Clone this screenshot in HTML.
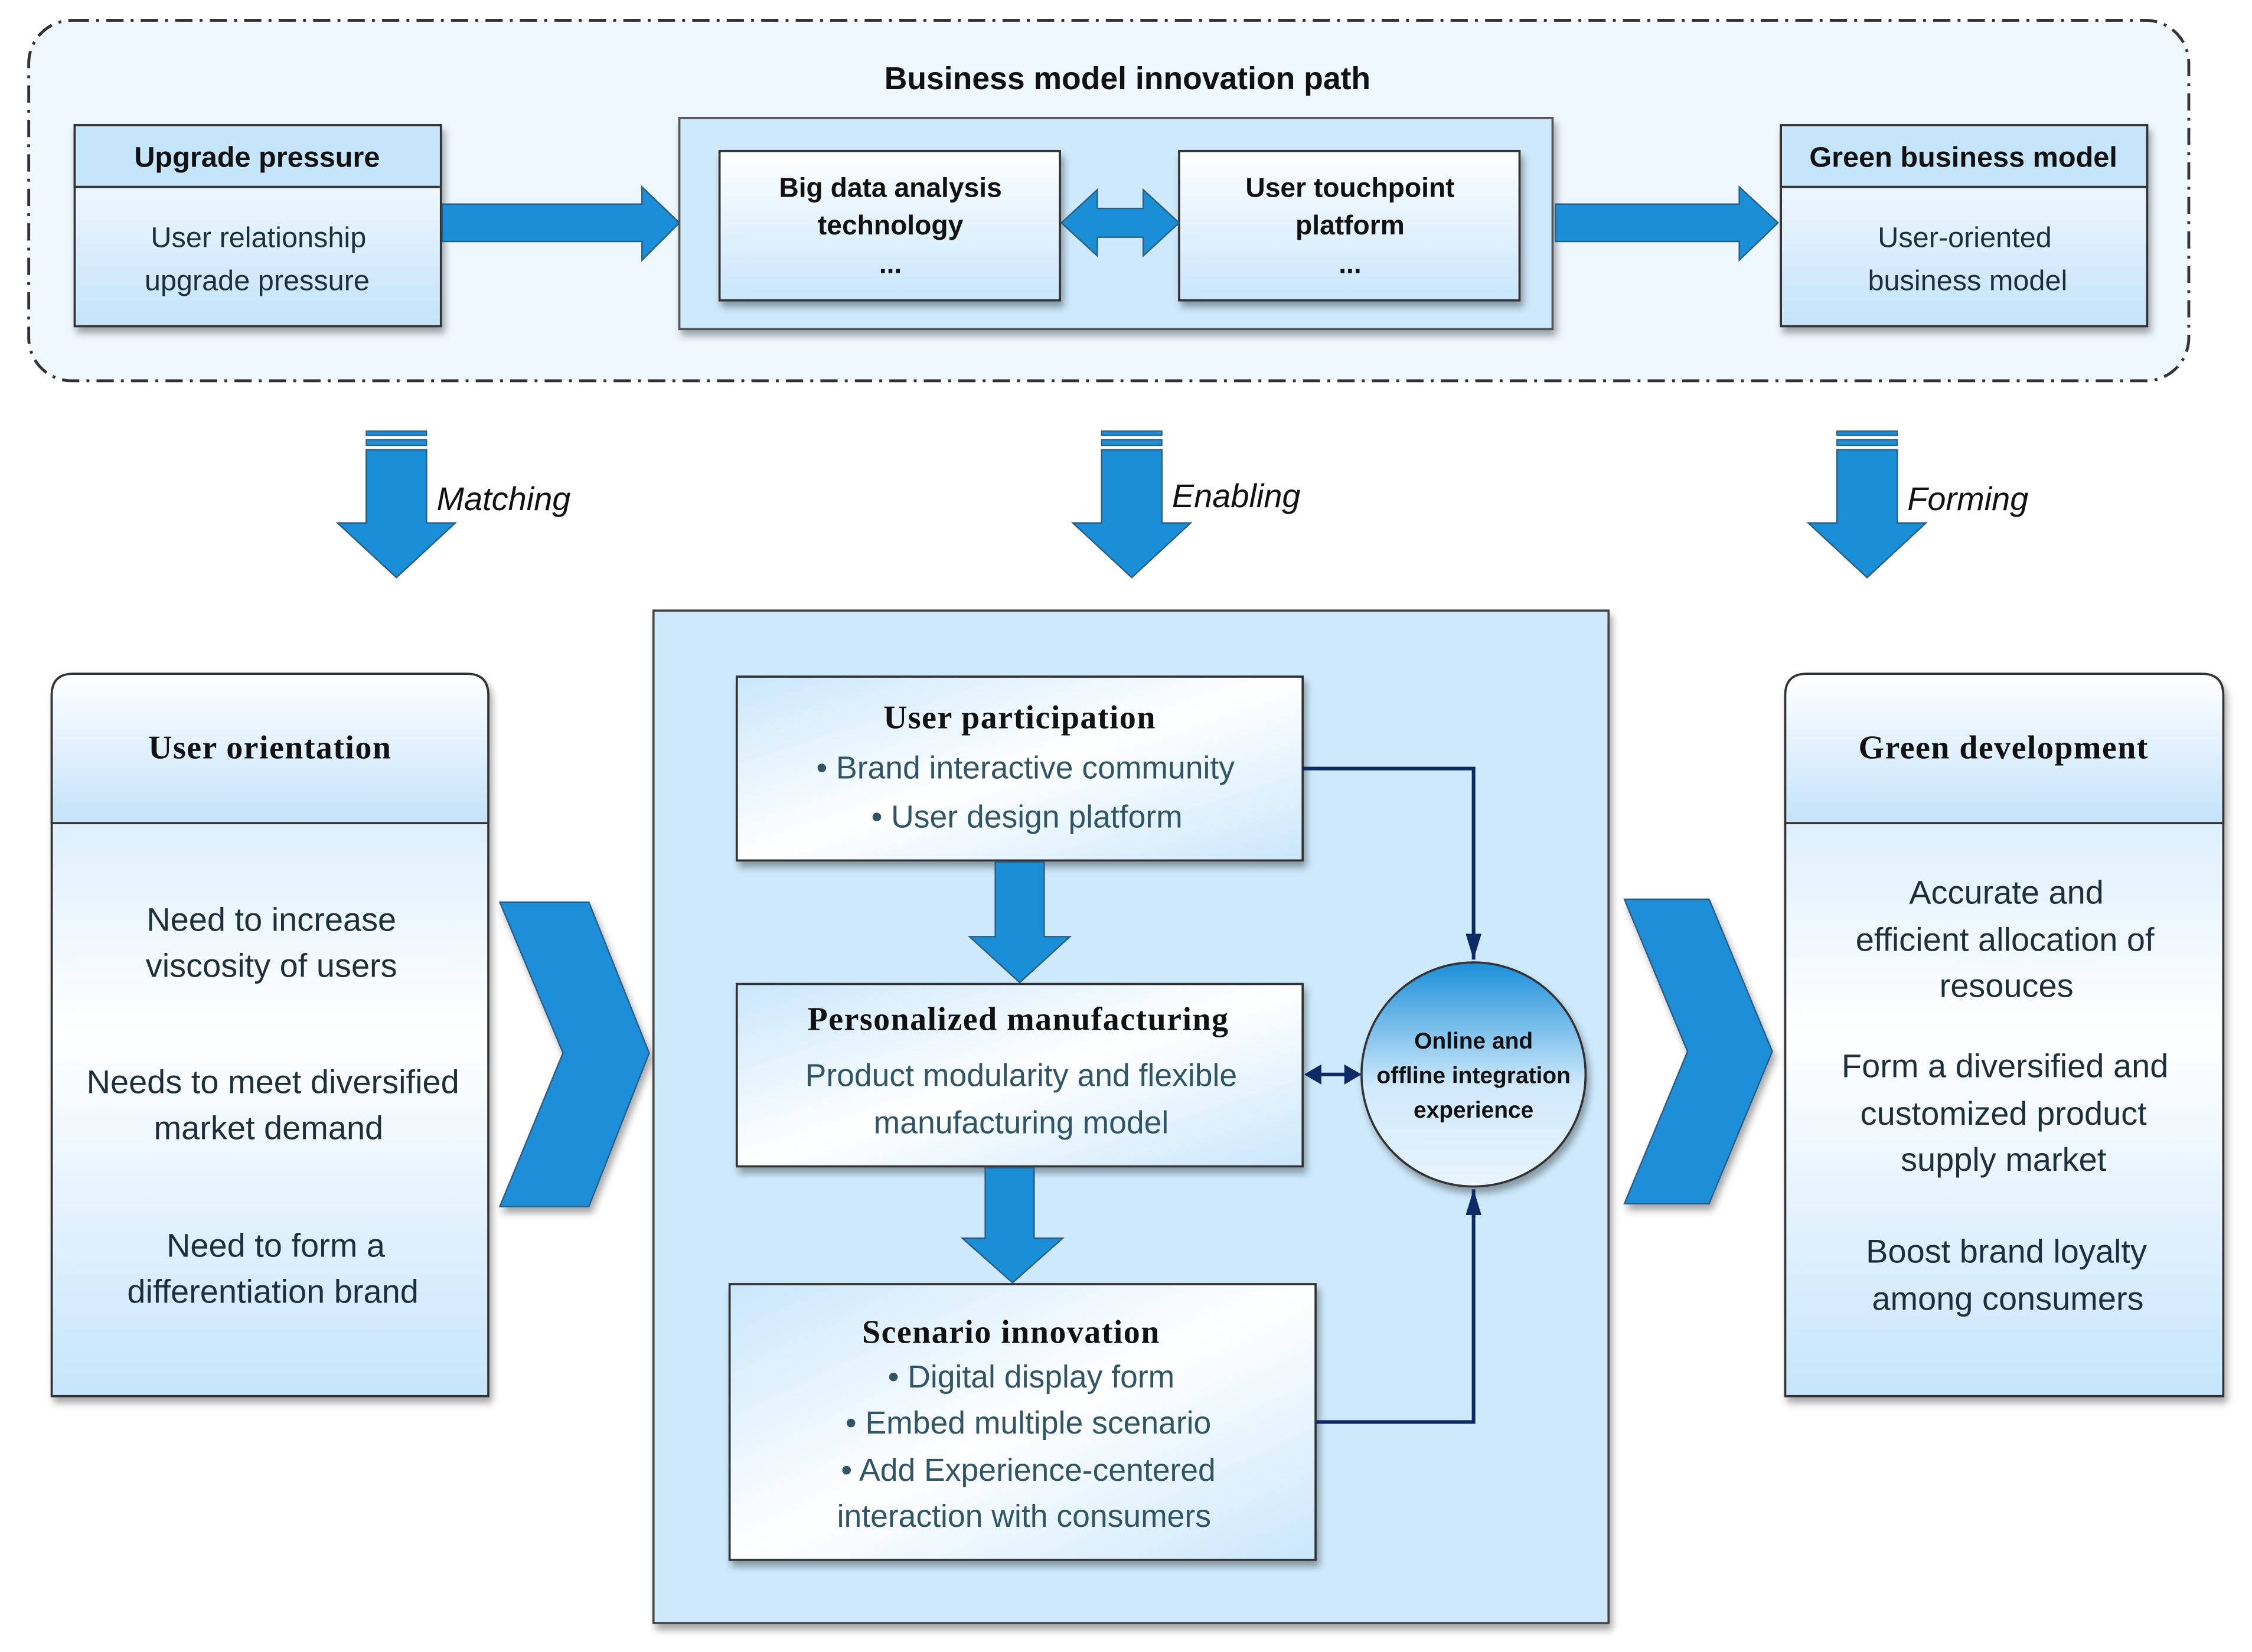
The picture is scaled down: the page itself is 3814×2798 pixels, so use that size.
<!DOCTYPE html>
<html><head><meta charset="utf-8"><style>
html,body{margin:0;padding:0;background:#fff;}
svg{display:block;}
.t{font-family:"Liberation Sans",sans-serif;}
.b{font-family:"Liberation Sans",sans-serif;font-weight:bold;fill:#111;}
.s{font-family:"Liberation Serif",serif;font-weight:bold;fill:#111;letter-spacing:0.6px;}
.body{font-family:"Liberation Sans",sans-serif;fill:#1e2f3c;}
.teal{font-family:"Liberation Sans",sans-serif;fill:#2f5566;}
</style></head><body>
<svg width="3814" height="2798" viewBox="0 0 1568 1150" xmlns="http://www.w3.org/2000/svg">
<defs>
<linearGradient id="g1" x1="0" y1="0" x2="0" y2="1"><stop offset="0" stop-color="#ffffff"/><stop offset="1" stop-color="#c3e3fa"/></linearGradient>
<linearGradient id="g2" x1="0" y1="0" x2="1" y2="1"><stop offset="0" stop-color="#c9e7fb"/><stop offset="0.5" stop-color="#ffffff"/><stop offset="1" stop-color="#c9e7fb"/></linearGradient>
<linearGradient id="g3" x1="0" y1="0" x2="0" y2="1"><stop offset="0" stop-color="#ffffff"/><stop offset="1" stop-color="#c8e6fb"/></linearGradient>
<linearGradient id="g4" x1="0" y1="0" x2="0" y2="1"><stop offset="0" stop-color="#c6e5fb"/><stop offset="0.5" stop-color="#ffffff"/><stop offset="1" stop-color="#c6e5fb"/></linearGradient>
<linearGradient id="gc" x1="0" y1="0" x2="0" y2="1"><stop offset="0" stop-color="#1a8fd8"/><stop offset="0.55" stop-color="#cfe9fb"/><stop offset="1" stop-color="#e8f5fe"/></linearGradient>
<filter id="sh" x="-10%" y="-10%" width="130%" height="130%"><feDropShadow dx="2" dy="4" stdDeviation="2.5" flood-color="#000" flood-opacity="0.35"/></filter>
<marker id="ah" markerWidth="18" markerHeight="11" refX="18" refY="5.5" orient="auto" markerUnits="userSpaceOnUse" viewBox="0 0 18 11"><path d="M0,0 L18,5.5 L0,11 Z" fill="#0d2a66"/></marker>
</defs>

<rect x="20" y="14" width="1504" height="251" rx="30" fill="#eef7fd" stroke="#333" stroke-width="2" stroke-dasharray="12,5,2,5"/>
<text x="785" y="62" text-anchor="middle" class="b" font-size="22">Business model innovation path</text>

<g filter="url(#sh)"><rect x="52" y="87" width="255" height="140" fill="url(#g1)" stroke="#333" stroke-width="1.5"/></g>
<rect x="52" y="87" width="255" height="43" fill="#c5e5fb" stroke="#333" stroke-width="1.5"/>
<text x="179" y="116" text-anchor="middle" class="b" font-size="20">Upgrade pressure</text>
<text x="180" y="172" text-anchor="middle" class="body" font-size="20">User relationship</text>
<text x="179" y="202" text-anchor="middle" class="body" font-size="20">upgrade pressure</text>

<path d="M308,142 L447,142 L447,130 L473,155 L447,181 L447,168 L308,168 Z" fill="#1a8fd8" stroke="#2a5d86" stroke-width="1"/>

<g filter="url(#sh)"><rect x="473" y="82" width="608" height="147" fill="#cde9fb" stroke="#555" stroke-width="1.5"/></g>
<g filter="url(#sh)"><rect x="501" y="105" width="237" height="104" fill="url(#g3)" stroke="#333" stroke-width="1.5"/></g>
<text x="620" y="137" text-anchor="middle" class="b" font-size="19">Big data analysis</text>
<text x="620" y="163" text-anchor="middle" class="b" font-size="19">technology</text>
<text x="620" y="190" text-anchor="middle" class="b" font-size="19">...</text>
<g filter="url(#sh)"><rect x="821" y="105" width="237" height="104" fill="url(#g3)" stroke="#333" stroke-width="1.5"/></g>
<text x="940" y="137" text-anchor="middle" class="b" font-size="19">User touchpoint</text>
<text x="940" y="163" text-anchor="middle" class="b" font-size="19">platform</text>
<text x="940" y="190" text-anchor="middle" class="b" font-size="19">...</text>
<path d="M739,155 L764,132 L764,145 L796,145 L796,132 L821,155 L796,178 L796,165 L764,165 L764,178 Z" fill="#1a8fd8" stroke="#2a5d86" stroke-width="1"/>

<path d="M1083,142 L1211,142 L1211,130 L1238,155 L1211,181 L1211,168 L1083,168 Z" fill="#1a8fd8" stroke="#2a5d86" stroke-width="1"/>

<g filter="url(#sh)"><rect x="1240" y="87" width="255" height="140" fill="url(#g1)" stroke="#333" stroke-width="1.5"/></g>
<rect x="1240" y="87" width="255" height="43" fill="#c5e5fb" stroke="#333" stroke-width="1.5"/>
<text x="1367" y="116" text-anchor="middle" class="b" font-size="20">Green business model</text>
<text x="1368" y="172" text-anchor="middle" class="body" font-size="20">User-oriented</text>
<text x="1370" y="202" text-anchor="middle" class="body" font-size="20">business model</text>

<g id="da">
<rect x="255" y="300" width="42" height="3" fill="#1a8fd8" stroke="#2a5d86" stroke-width="0.8"/>
<rect x="255" y="306" width="42" height="4" fill="#1a8fd8" stroke="#2a5d86" stroke-width="0.8"/>
<path d="M255,313 L297,313 L297,364 L317,364 L276,402 L235,364 L255,364 Z" fill="#1a8fd8" stroke="#2a5d86" stroke-width="1"/>
</g>
<use href="#da" x="512"/>
<use href="#da" x="1024"/>
<text x="304" y="355" class="t" font-style="italic" font-size="23" fill="#111">Matching</text>
<text x="816" y="353" class="t" font-style="italic" font-size="23" fill="#111">Enabling</text>
<text x="1328" y="355" class="t" font-style="italic" font-size="23" fill="#111">Forming</text>

<g filter="url(#sh)"><path d="M36,573 L36,484 Q36,469 51,469 L325,469 Q340,469 340,484 L340,972 L36,972 Z" fill="url(#g4)" stroke="#333" stroke-width="1.5"/></g>
<path d="M36,573 L36,484 Q36,469 51,469 L325,469 Q340,469 340,484 L340,573 Z" fill="url(#g1)" stroke="#333" stroke-width="1.5"/>
<text x="188" y="528" text-anchor="middle" class="s" font-size="23">User orientation</text>
<g class="body" font-size="23" text-anchor="middle">
<text x="189" y="648">Need to increase</text>
<text x="189" y="680">viscosity of users</text>
<text x="190" y="761">Needs to meet diversified</text>
<text x="187" y="793">market demand</text>
<text x="192" y="875">Need to form a</text>
<text x="190" y="907">differentiation brand</text>
</g>

<path d="M348,628 L410,628 L452,733 L410,840 L348,840 L392,733 Z" fill="#1a8fd8" stroke="#2a5d86" stroke-width="1" filter="url(#sh)"/>
<path d="M1131,626 L1190,626 L1234,732 L1190,838 L1131,838 L1175,732 Z" fill="#1a8fd8" stroke="#2a5d86" stroke-width="1" filter="url(#sh)"/>

<g filter="url(#sh)"><rect x="455" y="425" width="665" height="705" fill="#cde9fb" stroke="#444" stroke-width="1.5"/></g>

<g filter="url(#sh)"><rect x="513" y="471" width="394" height="128" fill="url(#g2)" stroke="#333" stroke-width="1.5"/></g>
<text x="710" y="507" text-anchor="middle" class="s" font-size="23">User participation</text>
<text x="714" y="542" text-anchor="middle" class="teal" font-size="22">• Brand interactive community</text>
<text x="715" y="576" text-anchor="middle" class="teal" font-size="22">• User design platform</text>

<path d="M693,600 L727,600 L727,652 L745,652 L710,684 L675,652 L693,652 Z" fill="#1a8fd8" stroke="#2a5d86" stroke-width="1"/>

<g filter="url(#sh)"><rect x="513" y="685" width="394" height="127" fill="url(#g2)" stroke="#333" stroke-width="1.5"/></g>
<text x="709" y="717" text-anchor="middle" class="s" font-size="23">Personalized manufacturing</text>
<text x="711" y="756" text-anchor="middle" class="teal" font-size="22">Product modularity and flexible</text>
<text x="711" y="789" text-anchor="middle" class="teal" font-size="22">manufacturing model</text>

<path d="M686,813 L720,813 L720,862 L740,862 L705,893 L670,862 L686,862 Z" fill="#1a8fd8" stroke="#2a5d86" stroke-width="1"/>

<g filter="url(#sh)"><rect x="508" y="894" width="408" height="192" fill="url(#g2)" stroke="#333" stroke-width="1.5"/></g>
<text x="704" y="935" text-anchor="middle" class="s" font-size="23">Scenario innovation</text>
<text x="718" y="966" text-anchor="middle" class="teal" font-size="22">• Digital display form</text>
<text x="716" y="998" text-anchor="middle" class="teal" font-size="22">• Embed multiple scenario</text>
<text x="716" y="1031" text-anchor="middle" class="teal" font-size="22">• Add Experience-centered</text>
<text x="713" y="1063" text-anchor="middle" class="teal" font-size="22">interaction with consumers</text>

<g filter="url(#sh)"><ellipse cx="1026" cy="748" rx="78" ry="78" fill="url(#gc)" stroke="#333" stroke-width="1.5"/></g>
<g class="b" font-size="16" text-anchor="middle">
<text x="1026" y="730">Online and</text>
<text x="1026" y="754">offline integration</text>
<text x="1026" y="778">experience</text>
</g>

<path d="M907,535 L1026,535 L1026,668" fill="none" stroke="#0d2a66" stroke-width="2.5" marker-end="url(#ah)"/>
<path d="M916,990 L1026,990 L1026,828" fill="none" stroke="#0d2a66" stroke-width="2.5" marker-end="url(#ah)"/>
<path d="M918,748 L938,748" stroke="#0d2a66" stroke-width="2.5"/>
<path d="M908,748 L920,741 L920,755 Z" fill="#0d2a66"/>
<path d="M948,748 L936,741 L936,755 Z" fill="#0d2a66"/>

<g filter="url(#sh)"><path d="M1243,573 L1243,484 Q1243,469 1258,469 L1533,469 Q1548,469 1548,484 L1548,972 L1243,972 Z" fill="url(#g4)" stroke="#333" stroke-width="1.5"/></g>
<path d="M1243,573 L1243,484 Q1243,469 1258,469 L1533,469 Q1548,469 1548,484 L1548,573 Z" fill="url(#g1)" stroke="#333" stroke-width="1.5"/>
<text x="1395" y="528" text-anchor="middle" class="s" font-size="23">Green development</text>
<g class="body" font-size="23" text-anchor="middle">
<text x="1397" y="629">Accurate and</text>
<text x="1396" y="662">efficient allocation of</text>
<text x="1397" y="694">resouces</text>
<text x="1396" y="750">Form a diversified and</text>
<text x="1395" y="783">customized product</text>
<text x="1395" y="815">supply market</text>
<text x="1397" y="879">Boost brand loyalty</text>
<text x="1398" y="912">among consumers</text>
</g>
</svg>
</body></html>
